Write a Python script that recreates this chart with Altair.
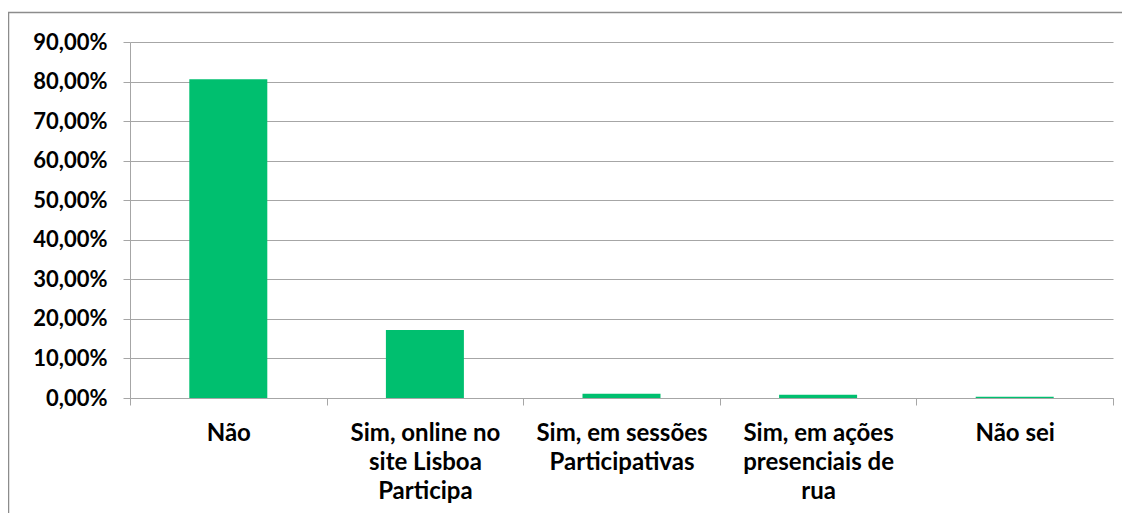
import altair as alt
import pandas as pd

categories = ["Não", "Sim, online no site Lisboa Participa", "Sim, em sessões Participativas",
              "Sim, em ações presenciais de rua", "Não sei"]
label_lines = [["Não"], ["Sim, online no", "site Lisboa", "Participa"], ["Sim, em sessões", "Participativas"],
               ["Sim, em ações", "presenciais de", "rua"], ["Não sei"]]
values = [80.6, 17.2, 1.1, 0.8, 0.3]

df = pd.DataFrame({"cat": categories, "val": values})

label_map = "{" + ",".join(
    "'" + c + "':[" + ",".join("'" + l + "'" for l in ls) + "]" for c, ls in zip(categories, label_lines)
) + "}"

FONT = "Lato"
GRID = "#A6A6A6"

bars = alt.Chart(df).mark_bar(color="#00BF6F", width=78).encode(
    x=alt.X("cat:N", sort=categories, title=None,
            scale=alt.Scale(paddingInner=0, paddingOuter=0),
            axis=alt.Axis(labelAngle=0, tickBand="extent", labelExpr=label_map + "[datum.label]",
                          labelFont=FONT, labelFontSize=24, labelFontWeight="bold", labelColor="#000000",
                          labelLineHeight=29, labelPadding=16, labelBaseline="top",
                          domainColor=GRID, tickColor=GRID, tickSize=7, grid=False)),
    y=alt.Y("val:Q", title=None,
            scale=alt.Scale(domain=[0, 90], nice=False),
            axis=alt.Axis(values=[0, 10, 20, 30, 40, 50, 60, 70, 80, 90],
                          labelExpr="replace(format(datum.value, '.2f'), '.', ',') + '%'",
                          labelFont=FONT, labelFontSize=22, labelFontWeight="bold", labelColor="#000000",
                          labelPadding=16, domainColor=GRID, tickColor=GRID, tickSize=7,
                          grid=True, gridColor=GRID, gridWidth=1)),
)

frame = alt.Chart(df.head(1)).mark_rect(fill=None, stroke="#8C8C8C", strokeWidth=1.5).encode(
    x=alt.value(-121.5), x2=alt.value(1100), y=alt.value(-29.5), y2=alt.value(700)
)

chart = alt.layer(frame, bars).properties(
    width=983, height=356,
    autosize=alt.AutoSizeParams(type="none"),
    padding={"left": 122, "top": 34, "right": 9, "bottom": 115},
).configure_view(stroke=None)

chart.save("out.html", embed_options={"renderer": "svg", "actions": False})
